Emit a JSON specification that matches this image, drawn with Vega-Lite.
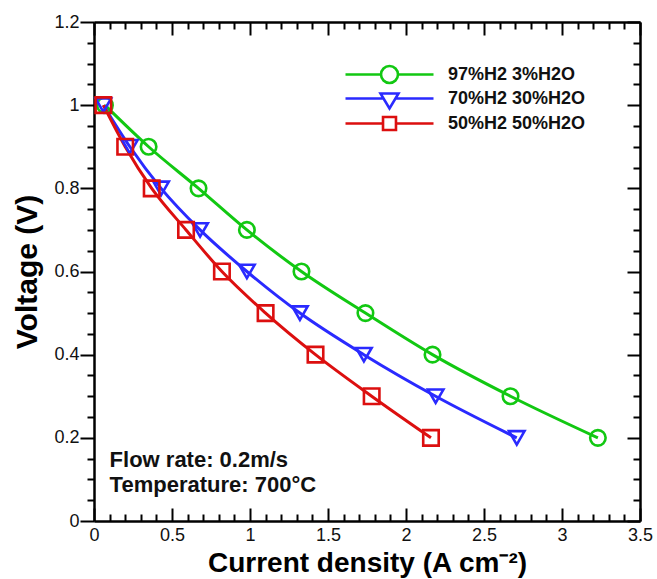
{
  "$schema": "https://vega.github.io/schema/vega-lite/v6.json",
  "width": 546,
  "height": 499,
  "autosize": {"type": "none"},
  "padding": {"left": 94, "top": 22, "right": 17, "bottom": 58},
  "config": {
    "view": {"stroke": null},
    "font": "Liberation Sans",
    "axis": {"domainColor": "black", "domainWidth": 2.5, "tickColor": "black", "tickWidth": 2, "labelColor": "#111111", "labelFontSize": 18, "grid": false, "titleColor": "black"}
  },
  "data": {
    "values": [
      {"s": "97%H2 3%H2O", "j": 0.07, "v": 1.0},
      {"s": "97%H2 3%H2O", "j": 0.35, "v": 0.9},
      {"s": "97%H2 3%H2O", "j": 0.67, "v": 0.8},
      {"s": "97%H2 3%H2O", "j": 0.98, "v": 0.7},
      {"s": "97%H2 3%H2O", "j": 1.33, "v": 0.6},
      {"s": "97%H2 3%H2O", "j": 1.74, "v": 0.5},
      {"s": "97%H2 3%H2O", "j": 2.17, "v": 0.4},
      {"s": "97%H2 3%H2O", "j": 2.67, "v": 0.3},
      {"s": "97%H2 3%H2O", "j": 3.23, "v": 0.2},
      {"s": "70%H2 30%H2O", "j": 0.06, "v": 1.0},
      {"s": "70%H2 30%H2O", "j": 0.23, "v": 0.9},
      {"s": "70%H2 30%H2O", "j": 0.43, "v": 0.8},
      {"s": "70%H2 30%H2O", "j": 0.68, "v": 0.7},
      {"s": "70%H2 30%H2O", "j": 0.98, "v": 0.6},
      {"s": "70%H2 30%H2O", "j": 1.32, "v": 0.5},
      {"s": "70%H2 30%H2O", "j": 1.73, "v": 0.4},
      {"s": "70%H2 30%H2O", "j": 2.19, "v": 0.3},
      {"s": "70%H2 30%H2O", "j": 2.71, "v": 0.2},
      {"s": "50%H2 50%H2O", "j": 0.06, "v": 1.0},
      {"s": "50%H2 50%H2O", "j": 0.2, "v": 0.9},
      {"s": "50%H2 50%H2O", "j": 0.37, "v": 0.8},
      {"s": "50%H2 50%H2O", "j": 0.59, "v": 0.7},
      {"s": "50%H2 50%H2O", "j": 0.82, "v": 0.6},
      {"s": "50%H2 50%H2O", "j": 1.1, "v": 0.5},
      {"s": "50%H2 50%H2O", "j": 1.42, "v": 0.4},
      {"s": "50%H2 50%H2O", "j": 1.78, "v": 0.3},
      {"s": "50%H2 50%H2O", "j": 2.16, "v": 0.2}
    ]
  },
  "layer": [
    {
      "mark": {"type": "line", "interpolate": "monotone", "strokeWidth": 3},
      "encoding": {
        "x": {"field": "j", "type": "quantitative", "scale": {"domain": [0, 3.5], "nice": false, "zero": false},
          "axis": {"orient": "bottom", "title": "Current density (A cm⁻²)", "titleFontSize": 28, "titleFontWeight": "bold", "titlePadding": -1,
            "values": [0,0.1,0.2,0.3,0.4,0.5,0.6,0.7,0.8,0.9,1,1.1,1.2,1.3,1.4,1.5,1.6,1.7,1.8,1.9,2,2.1,2.2,2.3,2.4,2.5,2.6,2.7,2.8,2.9,3,3.1,3.2,3.3,3.4,3.5],
            "labelExpr": "abs(datum.value*2 - round(datum.value*2)) < 1e-6 ? format(datum.value, '~g') : ''",
            "tickSize": {"condition": {"test": "abs(datum.value*2 - round(datum.value*2)) < 1e-6", "value": -13}, "value": -7},
            "labelPadding": 18, "labelFlush": false, "labelOverlap": false}},
        "y": {"field": "v", "type": "quantitative", "scale": {"domain": [0, 1.2], "nice": false},
          "axis": {"orient": "left", "title": "Voltage (V)", "titleFontSize": 30, "titleFontWeight": "bold", "titlePadding": 11,
            "values": [0,0.05,0.1,0.15,0.2,0.25,0.3,0.35,0.4,0.45,0.5,0.55,0.6,0.65,0.7,0.75,0.8,0.85,0.9,0.95,1,1.05,1.1,1.15,1.2],
            "labelExpr": "abs(datum.value*5 - round(datum.value*5)) < 1e-6 ? format(datum.value, '~g') : ''",
            "tickSize": {"condition": {"test": "abs(datum.value*5 - round(datum.value*5)) < 1e-6", "value": 14}, "value": 7},
            "labelPadding": 1, "labelFlush": false, "labelOverlap": false}},
        "color": {"field": "s", "type": "nominal",
          "scale": {"domain": ["97%H2 3%H2O", "70%H2 30%H2O", "50%H2 50%H2O"], "range": ["#12c812", "#2a2aff", "#dc0f0f"]},
          "legend": null}
      }
    },
    {
      "mark": {"type": "point", "filled": false, "strokeWidth": 2.6, "size": 240, "opacity": 1},
      "encoding": {
        "x": {"field": "j", "type": "quantitative",
          "axis": {"orient": "top", "title": null, "labels": false,
            "values": [0,0.1,0.2,0.3,0.4,0.5,0.6,0.7,0.8,0.9,1,1.1,1.2,1.3,1.4,1.5,1.6,1.7,1.8,1.9,2,2.1,2.2,2.3,2.4,2.5,2.6,2.7,2.8,2.9,3,3.1,3.2,3.3,3.4,3.5],
            "tickSize": {"condition": {"test": "abs(datum.value*2 - round(datum.value*2)) < 1e-6", "value": -13}, "value": -7}}},
        "y": {"field": "v", "type": "quantitative",
          "axis": {"orient": "right", "title": null, "labels": false,
            "values": [0,0.05,0.1,0.15,0.2,0.25,0.3,0.35,0.4,0.45,0.5,0.55,0.6,0.65,0.7,0.75,0.8,0.85,0.9,0.95,1,1.05,1.1,1.15,1.2],
            "tickSize": {"condition": {"test": "abs(datum.value*5 - round(datum.value*5)) < 1e-6", "value": -13}, "value": -7}}},
        "color": {"field": "s", "type": "nominal",
          "scale": {"domain": ["97%H2 3%H2O", "70%H2 30%H2O", "50%H2 50%H2O"], "range": ["#12c812", "#2a2aff", "#dc0f0f"]},
          "legend": null},
        "shape": {"field": "s", "type": "nominal",
          "scale": {"domain": ["97%H2 3%H2O", "70%H2 30%H2O", "50%H2 50%H2O"], "range": ["circle", "triangle-down", "square"]},
          "legend": null}
      }
    },
    {
      "data": {"values": []},
      "mark": {"type": "point", "filled": false, "strokeWidth": 2.6, "size": 256, "opacity": 1},
      "encoding": {
        "color": {"field": "s", "type": "nominal",
          "scale": {"domain": ["97%H2 3%H2O", "70%H2 30%H2O", "50%H2 50%H2O"], "range": ["#12c812", "#2a2aff", "#dc0f0f"]},
          "legend": {"orient": "none", "legendX": 250, "legendY": 43, "title": null, "padding": 0, "labelFontSize": 18, "labelFontWeight": "bold", "labelColor": "#111111",
            "symbolSize": 256, "symbolStrokeWidth": 2.6, "rowPadding": -5, "symbolOffset": 36, "labelOffset": 49}},
        "shape": {"field": "s", "type": "nominal",
          "scale": {"domain": ["97%H2 3%H2O", "70%H2 30%H2O", "50%H2 50%H2O"],
            "range": ["M-5.5,0H-1.06A1.06,1.06 0 1,1 1.06,0A1.06,1.06 0 1,1 -1.06,0M1.06,0H5.5", "M-5.5,0H-0.75M0.75,0H5.5M-1.12,-0.62H1.12L0,1.25Z", "M-5.5,0H-0.81M0.81,0H5.5M-0.81,-0.81H0.81V0.81H-0.81Z"]},
          "legend": {"orient": "none", "legendX": 250, "legendY": 43, "title": null, "padding": 0, "labelFontSize": 18, "labelFontWeight": "bold", "labelColor": "#111111",
            "symbolSize": 256, "symbolStrokeWidth": 2.6, "rowPadding": -5, "symbolOffset": 36, "labelOffset": 49}}
      }
    },
    {
      "data": {"values": [{}]},
      "mark": {"type": "text", "align": "left", "baseline": "top", "fontSize": 22, "fontWeight": "bold", "lineHeight": 25, "color": "#111111"},
      "encoding": {
        "x": {"datum": 0.1, "type": "quantitative", "axis": null},
        "y": {"datum": 0.17, "type": "quantitative", "axis": null},
        "text": {"value": ["Flow rate: 0.2m/s", "Temperature: 700°C"]}
      }
    }
  ],
  "resolve": {"axis": {"x": "independent", "y": "independent"}, "scale": {"shape": "independent", "color": "independent"}}
}
